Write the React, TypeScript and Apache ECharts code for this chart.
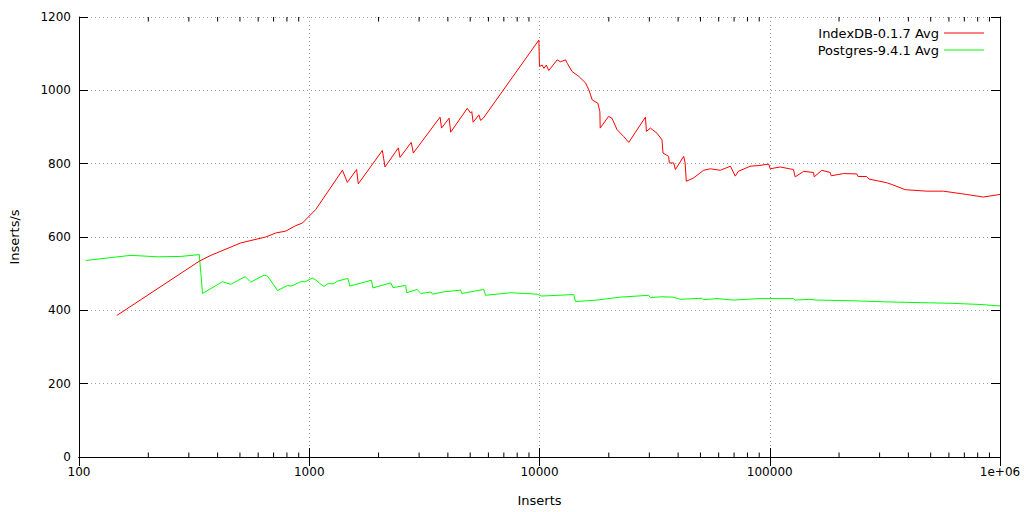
import React, { useEffect, useRef } from "react";
import * as echarts from "echarts";

const seriesNames = ["IndexDB-0.1.7 Avg", "Postgres-9.4.1 Avg"];

const indexdbX = [
  146, 333, 374, 505, 647, 716, 790, 874, 934, 1067, 1393, 1464, 1606, 1633, 2078, 2133, 2438, 2478, 2775, 2831,
  3700, 3753, 4048, 4115, 4858, 5020, 5080, 5150, 5454, 5546, 5700, 9935, 10000, 10270, 10450, 10700, 10970,
  11930, 12330, 12970, 13190, 13870, 14820, 15850, 16380, 16940, 17920, 18290, 18350, 19950, 20640, 21710,
  23210, 24420, 28850, 29130, 30320, 32390, 34040, 34380, 36380, 36630, 38260, 38930, 42290, 42900, 43410,
  46660, 51600, 55170, 60990, 67500, 70850, 73000, 82230, 90000, 98900, 100500, 111000, 126700, 129000,
  140300, 155000, 156000, 168300, 182800, 185000, 208900, 238800, 242000, 263600, 270000, 322000, 340000,
  387500, 481000, 567600, 715800, 846000, 1000000,
];
const indexdbY = [
  386, 534, 550, 584, 600, 611, 616, 631, 638, 675, 782, 749, 784, 745, 836, 791, 843, 817, 858, 829,
  927, 897, 924, 886, 951, 938, 942, 913, 933, 918, 924, 1137, 1065, 1069, 1060, 1069, 1054,
  1083, 1078, 1083, 1074, 1051, 1038, 1020, 1001, 974, 965, 942, 897, 929, 924, 893,
  874, 858, 927, 888, 897, 883, 865, 829, 820, 802, 802, 784, 820, 802, 752,
  761, 782, 786, 782, 793, 766, 779, 793, 795, 799, 786, 791, 784, 764,
  779, 776, 764, 782, 776, 767, 773, 772, 765, 765, 758, 748, 743,
  729, 725, 725, 716, 709, 716,
];

const postgresX = [
  107, 168, 219, 277, 333, 344, 420, 456, 527, 557, 637, 660, 728, 804, 835, 918, 960, 1032, 1060, 1158,
  1210, 1270, 1330, 1473, 1500, 1862, 1890, 2260, 2310, 2624, 2650, 2945, 3050, 3380, 3430, 3800, 4540,
  4600, 5730, 5830, 7490, 9770, 10200, 14090, 14330, 17780, 22440, 29800, 30300, 34000, 38000, 41000,
  50800, 51500, 59000, 69600, 79000, 90000, 126700, 129000, 148000, 160000, 231000, 322000, 450000,
  627000, 818000, 1000000,
];
const postgresY = [
  536, 550, 546, 547, 552, 446, 478, 471, 492, 477, 496, 493, 454, 468, 466, 478, 478, 488, 484, 465,
  473, 472, 480, 487, 466, 482, 461, 475, 462, 468, 448, 457, 446, 450, 444, 450, 455,
  446, 457, 441, 448, 444, 439, 443, 424, 428, 436, 441, 435, 437, 436, 430,
  433, 429, 432, 428, 430, 432, 432, 428, 430, 428, 426, 423, 421,
  419, 416, 412,
];

const xMin = 100;
const xMax = 1000000;
const yMin = 0;
const yMax = 1200;
const yInterval = 200;
const minorMultipliers = [2, 3, 4, 5, 6, 7, 8, 9];
const decades = [100, 1000, 10000, 100000];

const FONT = "DejaVu Sans";

export default function App() {
  const ref = useRef<HTMLDivElement>(null);
  useEffect(() => {
    if (!ref.current) return;
    const chart = echarts.init(ref.current, undefined, { renderer: "svg" });
    const splitStyle = { show: true, lineStyle: { color: "#a0a0a0", type: [1, 3] as any, width: 1 } };
    const xLabelFmt = (v: number) => (v >= 1000000 ? "1e+06" : String(Math.round(v)));
    const yLabelFmt = (v: number) => String(v);
    chart.setOption({
      animation: false,
      textStyle: { fontFamily: FONT },
      grid: { left: 78, right: 24, top: 17, bottom: 54, containLabel: false },
      legend: {
        orient: "vertical",
        right: 35,
        top: 21,
        align: "right",
        icon: "rect",
        itemWidth: 40,
        itemHeight: 1,
        itemGap: 3,
        textStyle: { fontFamily: FONT, fontSize: 13, color: "#000", lineHeight: 14 },
        data: seriesNames,
      },
      xAxis: [
        {
          type: "log",
          logBase: 10,
          min: xMin,
          max: xMax,
          name: "Inserts",
          nameLocation: "middle",
          nameGap: 37,
          nameTextStyle: { fontFamily: FONT, fontSize: 13, color: "#000" },
          axisLine: { show: true, lineStyle: { color: "#000", width: 1 } },
          axisTick: { show: true, inside: true, length: 9, lineStyle: { color: "#000" } },
          axisLabel: { fontFamily: FONT, fontSize: 12, color: "#000", margin: 9, formatter: xLabelFmt },
          splitLine: splitStyle,
        },
        {
          type: "log",
          logBase: 10,
          min: xMin,
          max: xMax,
          position: "top",
          axisLine: { show: true, lineStyle: { color: "#000", width: 1 } },
          axisTick: { show: true, inside: true, length: 9, lineStyle: { color: "#000" } },
          axisLabel: { show: false },
          splitLine: { show: false },
        },
      ],
      yAxis: [
        {
          type: "value",
          min: yMin,
          max: yMax,
          interval: yInterval,
          name: "Inserts/s",
          nameLocation: "middle",
          nameGap: 58,
          nameRotate: 90,
          nameTextStyle: { fontFamily: FONT, fontSize: 13, color: "#000" },
          axisLine: { show: true, lineStyle: { color: "#000", width: 1 } },
          axisTick: { show: true, inside: true, length: 9, lineStyle: { color: "#000" } },
          axisLabel: { fontFamily: FONT, fontSize: 12, color: "#000", margin: 8, formatter: yLabelFmt },
          splitLine: splitStyle,
        },
        {
          type: "value",
          min: yMin,
          max: yMax,
          interval: yInterval,
          position: "right",
          axisLine: { show: true, lineStyle: { color: "#000", width: 1 } },
          axisTick: { show: true, inside: true, length: 9, lineStyle: { color: "#000" } },
          axisLabel: { show: false },
          splitLine: { show: false },
        },
      ],
      series: [
        {
          name: seriesNames[0],
          type: "line",
          symbol: "none",
          showSymbol: false,
          color: "#ff0000",
          itemStyle: { color: "#ff0000" },
          lineStyle: { color: "#ff0000", width: 1 },
          data: indexdbX.map((x, i) => [x, indexdbY[i]]),
          z: 3,
        },
        {
          name: seriesNames[1],
          type: "line",
          symbol: "none",
          showSymbol: false,
          color: "#00ff00",
          itemStyle: { color: "#00ff00" },
          lineStyle: { color: "#00ff00", width: 1 },
          data: postgresX.map((x, i) => [x, postgresY[i]]),
          z: 2,
        },
      ],
    });

    const yBottom = chart.convertToPixel({ yAxisIndex: 0 }, yMin) as number;
    const yTop = chart.convertToPixel({ yAxisIndex: 0 }, yMax) as number;
    const minor: any[] = [];
    decades.forEach((d) => {
      minorMultipliers.forEach((m) => {
        const px = chart.convertToPixel({ xAxisIndex: 0 }, d * m) as number;
        minor.push({
          type: "line",
          shape: { x1: px, y1: yBottom, x2: px, y2: yBottom - 4.5 },
          style: { stroke: "#000", lineWidth: 1 },
          silent: true,
        });
        minor.push({
          type: "line",
          shape: { x1: px, y1: yTop, x2: px, y2: yTop + 4.5 },
          style: { stroke: "#000", lineWidth: 1 },
          silent: true,
        });
      });
    });
    chart.setOption({ graphic: minor });

    return () => chart.dispose();
  }, []);
  return (
    <div
      ref={ref}
      style={{ position: "fixed", left: 0, top: 0, width: 1024, height: 512, background: "#fff" }}
    />
  );
}
